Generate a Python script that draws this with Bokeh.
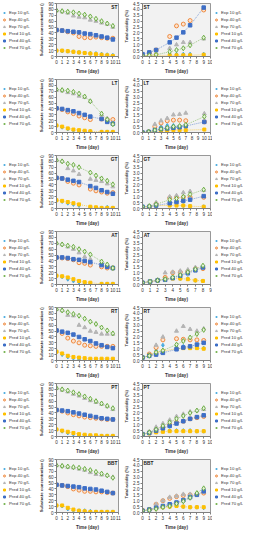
import math
from bokeh.plotting import figure
from bokeh.models import Legend, LegendItem, Label, FixedTicker, Range1d, NumeralTickFormatter
from bokeh.layouts import column, row
from bokeh.embed import file_html
from bokeh.resources import INLINE

FONT = "Liberation Sans"

# ---------------- data ----------------
series_names = ["Exp 10 g/L", "Exp 40 g/L", "Exp 70 g/L", "Pred 10 g/L", "Pred 40 g/L", "Pred 70 g/L"]
panel_names = ["ST", "LT", "GT", "AT", "RT", "PT", "BBT"]
sub_ylabel = "Substrate concentration (g/L)"
acid_ylabel = "Total acidity (%)"
x_label = "Time (day)"

# Substrate concentration (g/L); order per panel: Exp10, Exp40, Exp70, Pred10, Pred40, Pred70
sub_days_ST = [0, 1, 2, 3, 4, 5, 6, 7, 8, 9, 10]
sub_ST = [
    [10, 9.5, 9, 8, 7, 6, 5.5, 5, 4, 3, 2],
    [45, 44, 42, 40, 34, 32, 32, 33, 32, 31, 31],
    [78, 76, 74, 69, 67, 66, 62, 60, 57, 55, 50],
    [10, 10, 9, 8, 7, 6, 5, 4, 3, 2, 1],
    [45, 44, 43, 42, 41, 39, 38, 36, 34, 32, 29],
    [78, 77, 76, 75, 73, 71, 68, 64, 60, 56, 52],
]
sub_days_LT = [0, 1, 2, 3, 4, 5, 6, 8, 9, 10]
sub_LT = [
    [12, 9, 6, 4, 3, 2, 2, 1, 1, 1],
    [41, 39, 35, 32, 28, 25, 22, 23, 22, 22],
    [72, 71, 68, 66, 62, 60, 53, 30, 24, 16],
    [12, 10, 7, 5, 4, 3, 2, 1, 1, 1],
    [41, 40, 38, 36, 33, 30, 27, 23, 18, 15],
    [73, 72, 71, 69, 66, 61, 53, 32, 22, 14],
]
sub_days_GT = [0, 1, 2, 3, 4, 6, 7, 8, 9, 10]
sub_GT = [
    [14, 12, 9, 7, 5, 2, 1, 1, 2, 1],
    [52, 51, 46, 43, 40, 33, 30, 28, 26, 27],
    [82, 80, 68, 64, 58, 50, 48, 46, 42, 37],
    [14, 13, 11, 9, 7, 3, 2, 1, 1, 1],
    [52, 51, 49, 47, 45, 38, 35, 31, 28, 25],
    [82, 80, 76, 74, 70, 61, 56, 51, 47, 41],
]
sub_days_AT = [0, 1, 2, 3, 4, 5, 6, 8, 9, 10]
sub_AT = [
    [15, 13, 9, 6, 4, 2, 1, 1, 1, 1],
    [46, 45, 44, 42, 37, 36, 33, 30, 28, 28],
    [70, 68, 64, 60, 54, 47, 43, 37, 32, 27],
    [15, 14, 12, 9, 6, 4, 3, 1, 1, 1],
    [46, 46, 45, 43, 42, 40, 38, 33, 30, 28],
    [70, 68, 66, 64, 60, 56, 51, 39, 34, 28],
]
sub_days_RT = [0, 1, 2, 3, 4, 5, 6, 7, 8, 9, 10]
sub_RT = [
    [15, 10, 6, 4, 2, 1, 1, 1, 1, 1, 1],
    [51, 46, 38, 33, 30, 26, 25, 24, 24, 24, 24],
    [87, 85, 77, 76, 60, 56, 50, 48, 45, 45, 45],
    [15, 12, 8, 6, 5, 4, 3, 3, 3, 3, 3],
    [51, 49, 47, 44, 40, 36, 33, 29, 26, 23, 21],
    [87, 85, 82, 79, 76, 71, 66, 62, 56, 51, 46],
]
sub_days_PT = [0, 1, 2, 3, 4, 5, 6, 7, 8, 9, 10]
sub_PT = [
    [12, 9, 6, 4, 2, 1, 1, 1, 1, 1, 1],
    [45, 43, 40, 37, 35, 33, 32, 31, 30, 29, 29],
    [82, 79, 76, 72, 69, 65, 61, 58, 55, 51, 46],
    [12, 10, 8, 6, 4, 3, 2, 2, 1, 1, 1],
    [45, 44, 43, 41, 39, 37, 35, 33, 31, 30, 29],
    [82, 80, 78, 75, 72, 68, 64, 60, 56, 52, 48],
]
sub_days_BBT = [0, 1, 2, 3, 4, 5, 6, 7, 8, 9, 10]
sub_BBT = [
    [12, 11, 6, 4, 3, 3, 2, 1, 1, 1, 1],
    [47, 46, 44, 40, 38, 36, 36, 35, 35, 34, 33],
    [80, 79, 77, 76, 74, 72, 68, 65, 64, 63, 60],
    [12, 12, 8, 5, 3, 2, 1, 1, 1, 1, 1],
    [47, 46, 45, 44, 43, 41, 40, 39, 37, 35, 33],
    [80, 79, 78, 77, 76, 74, 72, 69, 66, 63, 59],
]

# Total acidity (%)
acid_days_ST = [0, 1, 2, 4, 5, 6, 7, 9]
acid_ST = [
    [0.1, 0.15, 0.2, 0.2, 0.2, 0.2, 0.2, 0.2],
    [0.1, 0.3, 0.55, 1.7, 2.6, 2.75, 3.05, 3.95],
    [0.1, 0.15, 0.3, 0.7, 1.0, 1.2, 1.2, 1.5],
    [0.05, 0.1, 0.1, 0.1, 0.1, 0.1, 0.1, 0.15],
    [0.2, 0.35, 0.55, 1.2, 1.6, 2.05, 2.65, 4.15],
    [0.05, 0.1, 0.15, 0.4, 0.55, 0.7, 0.95, 1.6],
]
acid_days_LT = [0, 1, 2, 3, 4, 5, 6, 7, 10]
acid_LT = [
    [0, 0.05, 0.3, 0.5, 0.6, 0.6, 0.55, 0.5, 0.9],
    [0, 0.05, 0.5, 0.8, 1.0, 1.05, 1.05, 1.0, 0.9],
    [0, 0.1, 0.7, 1.0, 1.2, 1.5, 1.55, 1.65, 1.6],
    [0, 0.05, 0.1, 0.15, 0.15, 0.2, 0.2, 0.2, 0.25],
    [0, 0.05, 0.2, 0.3, 0.35, 0.4, 0.45, 0.55, 0.9],
    [0, 0.05, 0.2, 0.3, 0.4, 0.5, 0.55, 0.65, 1.35],
]
acid_days_GT = [0, 1, 2, 4, 5, 6, 7, 9]
acid_GT = [
    [0.1, 0.15, 0.2, 0.3, 0.3, 0.25, 0.2, 0.15],
    [0.1, 0.15, 0.4, 0.9, 0.95, 0.95, 0.95, 0.95],
    [0.1, 0.2, 0.5, 1.0, 1.1, 1.35, 1.45, 1.55],
    [0.1, 0.15, 0.25, 0.25, 0.25, 0.25, 0.2, 0.15],
    [0.15, 0.15, 0.25, 0.45, 0.55, 0.65, 0.75, 1.05],
    [0.15, 0.2, 0.35, 0.75, 0.85, 1.0, 1.2, 1.6],
]
acid_days_AT = [0, 1, 2, 3, 4, 5, 6, 7, 8]
acid_AT = [
    [0.15, 0.25, 0.35, 0.4, 0.55, 0.5, 0.5, 0.35, 0.3],
    [0.15, 0.25, 0.35, 0.6, 1.0, 1.05, 1.1, 1.35, 1.35],
    [0.2, 0.25, 0.4, 1.0, 1.05, 1.15, 1.25, 1.45, 1.5],
    [0.15, 0.25, 0.35, 0.45, 0.5, 0.5, 0.45, 0.35, 0.3],
    [0.15, 0.25, 0.35, 0.4, 0.55, 0.75, 0.95, 1.2, 1.45],
    [0.15, 0.25, 0.35, 0.45, 0.6, 0.8, 1.05, 1.3, 1.6],
]
acid_days_RT = [0, 1, 2, 3, 5, 6, 7, 8, 9]
acid_RT = [
    [0.25, 0.5, 0.85, 1.3, 1.15, 1.2, 1.1, 1.15, 1.05],
    [0.25, 0.55, 1.1, 1.75, 1.85, 1.8, 1.75, 1.75, 1.7],
    [0.25, 0.5, 1.3, 2.0, 2.5, 2.9, 2.65, 2.5, 2.7],
    [0.25, 0.45, 0.65, 0.8, 1.0, 1.05, 1.05, 1.05, 1.0],
    [0.25, 0.4, 0.5, 0.65, 0.95, 1.1, 1.2, 1.35, 1.5],
    [0.25, 0.4, 0.7, 0.85, 1.35, 1.65, 1.95, 2.25, 2.6],
]
acid_days_PT = [0, 1, 2, 3, 4, 5, 6, 7, 8, 9]
acid_PT = [
    [0.2, 0.3, 0.4, 0.45, 0.5, 0.5, 0.5, 0.5, 0.45, 0.45],
    [0.2, 0.35, 0.6, 0.8, 1.0, 1.2, 1.3, 1.5, 1.6, 1.7],
    [0.2, 0.4, 0.8, 1.1, 1.4, 1.7, 1.9, 2.1, 2.2, 2.3],
    [0.2, 0.25, 0.35, 0.4, 0.45, 0.45, 0.45, 0.45, 0.45, 0.45],
    [0.2, 0.3, 0.5, 0.7, 0.9, 1.1, 1.3, 1.5, 1.65, 1.8],
    [0.2, 0.35, 0.6, 0.9, 1.2, 1.5, 1.75, 2.0, 2.2, 2.4],
]
acid_days_BBT = [0, 1, 2, 3, 4, 5, 6, 7, 8, 9]
acid_BBT = [
    [0.2, 0.25, 0.35, 0.45, 0.5, 0.6, 0.5, 0.45, 0.45, 0.4],
    [0.2, 0.25, 0.7, 1.0, 1.2, 1.35, 1.45, 1.5, 1.55, 1.65],
    [0.15, 0.25, 0.7, 1.0, 1.3, 1.4, 1.55, 1.55, 1.6, 1.75],
    [0.15, 0.25, 0.35, 0.45, 0.5, 0.55, 0.5, 0.45, 0.45, 0.45],
    [0.15, 0.25, 0.4, 0.55, 0.7, 0.85, 1.05, 1.3, 1.5, 1.8],
    [0.15, 0.2, 0.3, 0.45, 0.55, 0.75, 0.95, 1.25, 1.65, 2.05],
]
acid_xmax = [10, 11, 10, 9, 10, 10, 10]

sub_days = [sub_days_ST, sub_days_LT, sub_days_GT, sub_days_AT, sub_days_RT, sub_days_PT, sub_days_BBT]
sub_vals = [sub_ST, sub_LT, sub_GT, sub_AT, sub_RT, sub_PT, sub_BBT]
acid_days = [acid_days_ST, acid_days_LT, acid_days_GT, acid_days_AT, acid_days_RT, acid_days_PT, acid_days_BBT]
acid_vals = [acid_ST, acid_LT, acid_GT, acid_AT, acid_RT, acid_PT, acid_BBT]

# ---------------- styles ----------------
styles = [
    dict(marker="diamond", size=4, fill_color="#4BACE0", line_color="#4BACE0", fill_alpha=1),
    dict(marker="circle", size=4, fill_color="#FBE3D0", line_color="#F08A3E", fill_alpha=1, line_width=1),
    dict(marker="triangle", size=4, fill_color="#B5B5B5", line_color="#B5B5B5", fill_alpha=1),
    dict(marker="square", size=3, fill_color="#FFC000", line_color="#FFC000", fill_alpha=1),
    dict(marker="square", size=3.5, fill_color="#3E6FC6", line_color="#3E6FC6", fill_alpha=1),
    dict(marker="diamond", size=5, fill_color="#E8F2DE", line_color="#6DAE45", fill_alpha=1, line_width=1),
]
line_colors = ["#4BACE0", "#F08A3E", "#B5B5B5", "#FFC000", "#3E6FC6", "#6DAE45"]

ROW_H = 76
LEG_W_L, LAB_W, PLOT_W_L = 37, 8, 77
LEG_W_R, PLOT_W_R = 31, 82
TOP = 3
FS = "4.6px"


def blank_fig(w, y0=0, y1=1):
    p = figure(width=w, height=ROW_H, output_backend="svg", toolbar_location=None,
               x_range=Range1d(0, 1), y_range=Range1d(y0, y1), x_axis_type=None, y_axis_type=None,
               min_border=0)
    p.outline_line_color = None
    p.background_fill_color = "white"
    p.xgrid.visible = False
    p.ygrid.visible = False
    return p


def label_fig(text):
    p = blank_fig(LAB_W)
    p.add_layout(Label(x=0.5, y=0.57, text=text, angle=math.pi / 2, text_align="center",
                       text_baseline="middle", text_font_size="4.3px", text_font=FONT,
                       text_font_style="bold", text_color="#333333"))
    return p


def legend_fig(w, xs, ys):
    # the series are drawn again here, but this figure's view range lies below all values,
    # so only the legend (which shows each series' marker) is visible
    p = blank_fig(w, -2, -1)
    rends = [p.scatter(xs, ys[k], **styles[k]) for k in range(6)]
    items = [LegendItem(label=n, renderers=[r]) for n, r in zip(series_names, rends)]
    lg = Legend(items=items, location="left")
    lg.label_text_font_size = "4.3px"
    lg.label_text_font = FONT
    lg.label_text_color = "#333333"
    lg.label_height = 5
    lg.label_width = 10
    lg.label_standoff = 2
    lg.glyph_height = 5
    lg.glyph_width = 6
    lg.spacing = 2
    lg.padding = 0
    lg.margin = 1
    lg.border_line_alpha = 0
    lg.background_fill_alpha = 0
    p.add_layout(lg, "center")
    return p


def style_fig(p):
    p.background_fill_color = "#F2F2F2"
    p.border_fill_color = "white"
    p.outline_line_color = "#7F7F7F"
    p.outline_line_width = 0.8
    p.xgrid.visible = False
    p.ygrid.visible = False
    for ax in (p.xaxis[0], p.yaxis[0]):
        ax.major_label_text_font_size = FS
        ax.major_label_text_font = FONT
        ax.major_label_text_color = "#333333"
        ax.axis_label_text_font_size = FS
        ax.axis_label_text_font = FONT
        ax.axis_label_text_font_style = "bold"
        ax.axis_label_text_color = "#333333"
        ax.axis_label_standoff = 2
        ax.major_label_standoff = 1
        ax.major_tick_in = 0
        ax.major_tick_out = 2
        ax.minor_tick_out = 0
        ax.minor_tick_in = 0
        ax.axis_line_color = "#7F7F7F"
        ax.major_tick_line_color = "#7F7F7F"


def sub_fig(i):
    p = figure(width=PLOT_W_L, height=ROW_H, output_backend="svg", toolbar_location=None,
               x_range=Range1d(0, 11), y_range=Range1d(0, 90),
               min_border_left=0, min_border_right=4, min_border_top=TOP, min_border_bottom=0)
    style_fig(p)
    p.xaxis.ticker = FixedTicker(ticks=list(range(0, 12)))
    p.yaxis.ticker = FixedTicker(ticks=list(range(0, 100, 10)))
    p.xaxis.axis_label = x_label
    x = sub_days[i]
    for k in range(3, 6):
        p.line(x, sub_vals[i][k], line_color=line_colors[k], line_dash="1 1", line_width=0.6)
    for k in range(6):
        p.scatter(x, sub_vals[i][k], **styles[k])
    p.add_layout(Label(x=10.8, y=87, text=panel_names[i], text_font_size="4.8px", text_font=FONT,
                       text_font_style="bold", text_align="right", text_baseline="top", text_color="#222222"))
    return p


def acid_fig(i):
    xm = acid_xmax[i]
    p = figure(width=PLOT_W_R, height=ROW_H, output_backend="svg", toolbar_location=None,
               x_range=Range1d(0, xm), y_range=Range1d(0, 4.5),
               min_border_left=0, min_border_right=2, min_border_top=TOP, min_border_bottom=0)
    style_fig(p)
    p.xaxis.ticker = FixedTicker(ticks=list(range(0, xm + 1)))
    p.yaxis.ticker = FixedTicker(ticks=[v / 2 for v in range(0, 10)])
    p.yaxis.formatter = NumeralTickFormatter(format="0.0")
    p.xaxis.axis_label = x_label
    x = acid_days[i]
    for k in range(3, 6):
        p.line(x, acid_vals[i][k], line_color=line_colors[k], line_dash="1 1", line_width=0.6)
    for k in range(6):
        p.scatter(x, acid_vals[i][k], **styles[k])
    p.add_layout(Label(x=0.15, y=4.4, text=panel_names[i], text_font_size="4.8px", text_font=FONT,
                       text_font_style="bold", text_align="left", text_baseline="top", text_color="#222222"))
    return p


rows = []
for i in range(7):
    rows.append(row(legend_fig(LEG_W_L, sub_days[i], sub_vals[i]), label_fig(sub_ylabel), sub_fig(i),
                    label_fig(acid_ylabel), acid_fig(i),
                    legend_fig(LEG_W_R, acid_days[i], acid_vals[i])))
layout = column(*rows)

open("out.html", "w").write(file_html(layout, INLINE))
